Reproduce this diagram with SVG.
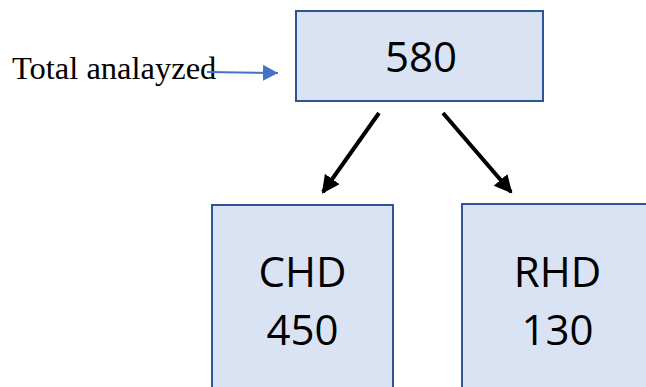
<svg xmlns="http://www.w3.org/2000/svg" width="646" height="387" viewBox="0 0 646 387">
<style>
.box{fill:#DAE3F3;stroke:#2F5597;stroke-width:2}
.num{font-family:"Open Sans","Noto Sans",sans-serif;font-size:42px;fill:#000;text-anchor:middle}
.lbl{font-family:"Liberation Serif","Times New Roman",serif;font-size:32.5px;fill:#000}
.conn{stroke:#000;stroke-width:4;fill:none}
.blue{stroke:#4472C4;stroke-width:2;fill:none}
</style>
<defs>
<marker id="ah" markerUnits="userSpaceOnUse" markerWidth="20" markerHeight="20" refX="16" refY="9" orient="auto">
<polygon points="0,0 18,9 0,18" fill="#000"/>
</marker>
<marker id="ahb" markerUnits="userSpaceOnUse" markerWidth="18" markerHeight="18" refX="15" refY="8" orient="auto">
<polygon points="0,0 15,8 0,16" fill="#4472C4"/>
</marker>
</defs>
<rect width="646" height="387" fill="#fff"/>
<g id="label-total">
<text class="lbl" x="12" y="79">Total analayzed</text>
</g>
<g id="node-total">
<rect class="box" x="296" y="11" width="247" height="90"/>
<text class="num" x="421" y="72">580</text>
</g>
<g id="node-chd">
<rect class="box" x="212" y="205" width="181" height="200"/>
<text class="num" x="302.5" y="287">CHD</text>
<text class="num" x="302.5" y="345">450</text>
</g>
<g id="node-rhd">
<rect class="box" x="462" y="204" width="200" height="200"/>
<text class="num" x="557.5" y="287">RHD</text>
<text class="num" x="557.5" y="345">130</text>
</g>
<g id="connectors">
<line class="blue" x1="207" y1="72" x2="278" y2="73" marker-end="url(#ahb)"/>
<line class="conn" x1="379" y1="113" x2="323" y2="192" marker-end="url(#ah)"/>
<line class="conn" x1="443" y1="113" x2="511" y2="192" marker-end="url(#ah)"/>
</g>
</svg>
